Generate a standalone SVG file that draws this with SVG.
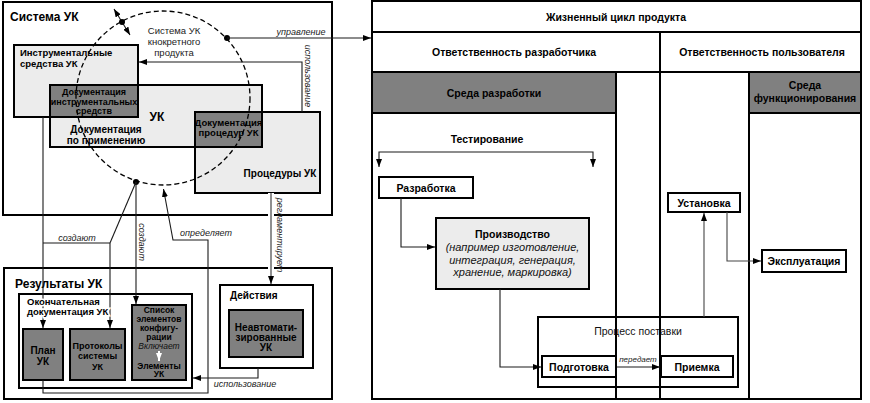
<svg xmlns="http://www.w3.org/2000/svg" width="870" height="403" viewBox="0 0 870 403">
<defs>
<style>
.frame{fill:#fff;stroke:#000;stroke-width:2}
.light{fill:#ececec;stroke:#000;stroke-width:2}
.dark{fill:#808080;stroke:#000;stroke-width:2}
.wbox{fill:#fff;stroke:#000;stroke-width:2}
.ln{fill:none;stroke:#000;stroke-width:2}
.c{fill:none;stroke:#1a1a1a;stroke-width:1.1}
.ca{fill:none;stroke:#1a1a1a;stroke-width:1.1;marker-end:url(#ah)}
.t{font-family:"Liberation Sans",Arial,sans-serif;font-weight:bold;font-size:10px;fill:#000}
.tc{text-anchor:middle}
.n{font-family:"Liberation Sans",Arial,sans-serif;font-size:10px;fill:#222}
.i{font-family:"Liberation Sans",Arial,sans-serif;font-style:italic;font-size:9px;fill:#222}
.halo{stroke:#fff;stroke-width:3;paint-order:stroke}
.dot{fill:#000}
</style>
<marker id="ah" viewBox="0 0 8 6" refX="8" refY="3" markerWidth="8" markerHeight="6" markerUnits="userSpaceOnUse" orient="auto-start-reverse">
<path d="M0,0 L8,3 L0,6 z" fill="#000"/>
</marker>
<marker id="ahw" viewBox="0 0 8 6" refX="8" refY="3" markerWidth="8" markerHeight="7" markerUnits="userSpaceOnUse" orient="auto">
<path d="M0,0 L8,3 L0,6 z" fill="#fff"/>
</marker>
</defs>

<!-- ===== Left: Система УК ===== -->
<g id="sistema-uk">
<rect class="frame" x="3" y="2" width="329" height="213"/>
<text class="t" x="10" y="21" style="font-size:12px">Система УК</text>
</g>

<g id="instr-sredstva">
<rect class="light" x="14" y="45" width="124" height="72"/>
<text class="t" x="20" y="56" style="font-size:9.5px">Инструментальные</text>
<text class="t" x="20" y="67" style="font-size:9.5px">средства УК</text>
</g>

<g id="uk">
<rect class="light" x="50" y="85" width="212" height="62"/>
<text class="t tc" x="157" y="121" style="font-size:12px">УК</text>
<text class="t tc" x="106" y="133">Документация</text>
<text class="t tc" x="106" y="144">по применению</text>
</g>

<g id="procedury-uk">
<rect class="light" x="195" y="112" width="125" height="81"/>
<text class="t tc" x="280" y="177">Процедуры УК</text>
</g>

<g id="dok-instr">
<rect class="dark" x="50" y="85" width="88" height="32"/>
<text class="t tc" x="94" y="95" style="font-size:9px">Документация</text>
<text class="t tc" x="94" y="104.5" style="font-size:9px">инструментальных</text>
<text class="t tc" x="94" y="114" style="font-size:9px">средств</text>
</g>

<g id="dok-proc">
<rect class="dark" x="195" y="112" width="67" height="35"/>
<text class="t tc" x="228.5" y="126" style="font-size:9.5px">Документация</text>
<text class="t tc" x="228.5" y="136" style="font-size:9.5px">процедур УК</text>
</g>

<g id="sistema-konkretnogo">
<circle cx="163" cy="98" r="87" fill="none" stroke="#000" stroke-width="1.3" stroke-dasharray="5 3"/>
<text class="n tc" x="174" y="34" style="font-size:9.5px">Система УК</text>
<text class="n tc" x="174" y="45" style="font-size:9.5px">кнокретного</text>
<text class="n tc" x="174" y="56" style="font-size:9.5px">продукта</text>
</g>

<!-- ===== Left bottom: Результаты УК ===== -->
<g id="rezultaty-uk">
<rect class="frame" x="4" y="268" width="328" height="131"/>
<text class="t" x="15" y="288" style="font-size:12px">Результаты УК</text>
</g>

<g id="okonch-dok">
<rect class="wbox" x="19" y="294" width="173" height="94"/>
</g>

<g id="deistviya">
<rect class="wbox" x="220" y="285" width="93" height="83"/>
<text class="t" x="230" y="299">Действия</text>
</g>

<g id="neavtomat-uk">
<rect class="dark" x="229" y="310" width="74" height="47"/>
<text class="t tc" x="266" y="331">Неавтомати-</text>
<text class="t tc" x="266" y="341">зированные</text>
<text class="t tc" x="266" y="351">УК</text>
</g>

<g id="plan-uk">
<rect class="dark" x="23" y="329" width="40" height="51"/>
<text class="t tc" x="43" y="354">План</text>
<text class="t tc" x="43" y="365">УК</text>
</g>

<g id="protokoly">
<rect class="dark" x="70" y="329" width="55" height="51"/>
<text class="t tc" x="97.5" y="348.5" style="font-size:9px">Протоколы</text>
<text class="t tc" x="97.5" y="359" style="font-size:9px">системы</text>
<text class="t tc" x="97.5" y="369.5" style="font-size:9px">УК</text>
</g>

<g id="spisok-elementov">
<rect class="dark" x="132" y="305" width="54" height="75"/>
<text class="t tc" x="159" y="313" style="font-size:8.5px">Список</text>
<text class="t tc" x="159" y="322" style="font-size:8.5px">элементов</text>
<text class="t tc" x="159" y="331" style="font-size:8.5px">конфигу-</text>
<text class="t tc" x="159" y="340" style="font-size:8.5px">рации</text>
<text class="i tc" x="159" y="349" style="fill:#111;font-size:8.5px">Включает</text>
<line x1="159" y1="351" x2="159" y2="361" stroke="#fff" stroke-width="2" marker-end="url(#ahw)"/>
<text class="t tc" x="159" y="368.5" style="font-size:8.5px">Элементы</text>
<text class="t tc" x="159" y="377" style="font-size:8.5px">УК</text>
</g>

<!-- ===== Right: Жизненный цикл продукта ===== -->
<g id="zhiznenny-cikl">
<rect class="frame" x="372" y="1" width="489" height="398"/>
<line class="ln" x1="372" y1="32" x2="861" y2="32"/>
<line class="ln" x1="372" y1="72" x2="861" y2="72"/>
<text class="t tc" x="616" y="21" style="font-size:10.5px">Жизненный цикл продукта</text>
</g>

<g id="otv-razrab">
<text class="t tc" x="514" y="56" style="font-size:10.5px">Ответственность разработчика</text>
</g>
<g id="otv-polz">
<text class="t tc" x="762" y="56" style="font-size:10.5px">Ответственность пользователя</text>
</g>

<g id="sreda-razrab">
<rect class="dark" x="372" y="72" width="244" height="41"/>
<text class="t tc" x="494" y="97" style="font-size:10.5px">Среда разработки</text>
</g>
<g id="sreda-funk">
<rect class="dark" x="749" y="72" width="112" height="41"/>
<text class="t tc" x="805" y="89" style="font-size:10.5px">Среда</text>
<text class="t tc" x="805" y="102" style="font-size:10.5px">функционирования</text>
</g>

<g id="testirovanie">
<text class="t tc" x="487" y="143" style="font-size:10.5px">Тестирование</text>
</g>

<g id="razrabotka">
<rect class="wbox" x="379" y="177" width="94" height="21"/>
<text class="t tc" x="426" y="191.5" style="font-size:10.5px">Разработка</text>
</g>

<g id="proizvodstvo">
<rect class="light" x="436" y="218" width="153" height="71"/>
<text class="t tc" x="512.5" y="238" style="font-size:10.5px">Производство</text>
<text class="i tc" x="512.5" y="251" style="font-size:11px;fill:#111">(например изготовление,</text>
<text class="i tc" x="512.5" y="263.5" style="font-size:11px;fill:#111">интеграция, генерация,</text>
<text class="i tc" x="512.5" y="276" style="font-size:11px;fill:#111">хранение, маркировка)</text>
</g>

<g id="process-postavki">
<rect class="wbox" x="538" y="317" width="200" height="70"/>
<text class="n tc" x="638" y="335" style="fill:#111;font-size:10.5px">Процесс поставки</text>
</g>

<g id="ustanovka">
<rect class="wbox" x="668" y="193" width="72" height="19"/>
<text class="t tc" x="704" y="206.5" style="font-size:10.5px">Установка</text>
</g>

<g id="ekspluataciya">
<rect class="wbox" x="762" y="250" width="84" height="22"/>
<text class="t tc" x="804" y="265" style="font-size:10.5px">Эксплуатация</text>
</g>

<g id="podgotovka">
<rect class="wbox" x="542" y="356" width="74" height="21"/>
<text class="t tc" x="579" y="370.5" style="font-size:10.5px">Подготовка</text>
</g>

<g id="priemka">
<rect class="wbox" x="661" y="356" width="72" height="21"/>
<text class="t tc" x="697" y="370.5" style="font-size:10.5px">Приемка</text>
</g>

<g id="column-lines">
<line class="ln" x1="660" y1="32" x2="660" y2="399"/>
<line class="ln" x1="616" y1="72" x2="616" y2="399"/>
<line class="ln" x1="749" y1="72" x2="749" y2="399"/>
</g>

<!-- ===== Connectors ===== -->
<g id="connectors">
<line class="c" x1="114" y1="9" x2="130" y2="35" marker-start="url(#ah)" marker-end="url(#ah)"/>
<circle class="dot" cx="122" cy="22" r="3"/>
<circle class="dot" cx="227" cy="38" r="3"/>
<path class="ca" d="M227,38 H371"/>
<text class="i tc" x="301" y="35">управление</text>
<path class="ca" d="M302,112 V62 H139"/>
<text class="i tc" transform="translate(305,76) rotate(90)">использование</text>
<path d="M271,193 V284" fill="none" stroke="#fff" stroke-width="6"/>
<path class="ca" d="M271,193 V284" style="stroke:#333"/>
<text class="i tc" transform="translate(277,235) rotate(90)">регламентирует</text>
<path class="ca" d="M43,117 V328"/>
<circle class="dot" cx="136" cy="182" r="3"/>
<path class="c" d="M136,182 L110,243"/>
<path class="c" d="M43,243 H110"/>
<path class="ca" d="M110,243 V328"/>
<text class="i tc" x="77" y="241">создают</text>
<path class="ca" d="M136,182 V304"/>
<text class="i tc" transform="translate(139,242) rotate(90)">создают</text>
<path class="ca" d="M43,380 V393 H208 V240 H173 L163.5,189"/>
<text class="i tc" x="206" y="236">определяет</text>
<path class="ca" d="M258,368 V378 H193"/>
<text class="i tc" x="245" y="387">использование</text>
<path class="c" d="M379,167 V152 H593 V167" marker-start="url(#ah)" marker-end="url(#ah)"/>
<path class="ca" d="M401,198 V247 H435"/>
<path class="ca" d="M500,289 V367 H541"/>
<path class="ca" d="M617,367 H660"/>
<text class="i tc" x="638" y="362" style="font-size:8px">передает</text>
<path class="ca" d="M704,317 V213" style="stroke:#444"/>
<path class="ca" d="M727,212 V261 H761" style="stroke:#444"/>
</g>

<g id="okonch-text">
<text class="t halo" x="27" y="305" style="font-size:9.5px">Окончательная</text>
<text class="t halo" x="27" y="315" style="font-size:9.5px">документация УК</text>
</g>
</svg>
